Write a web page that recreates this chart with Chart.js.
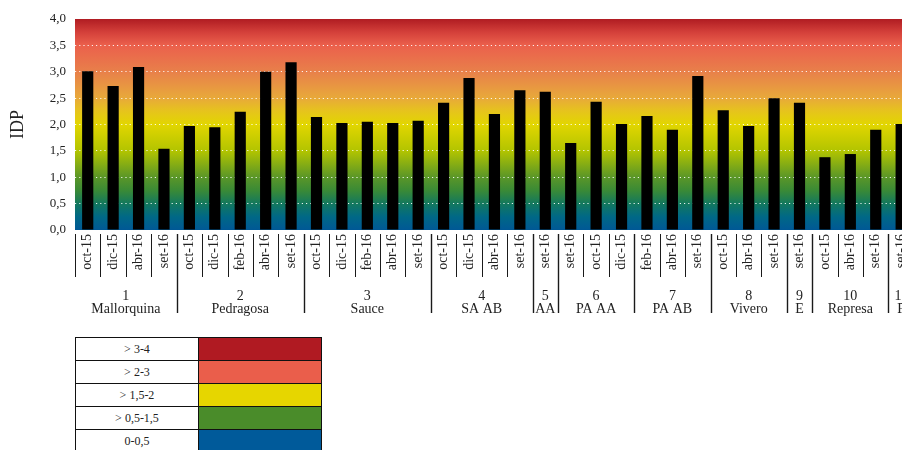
<!DOCTYPE html>
<html>
<head>
<meta charset="utf-8">
<script src="https://cdn.jsdelivr.net/npm/chart.js@4.4.0/dist/chart.umd.min.js"></script>
<style>
  html, body { margin: 0; padding: 0; background: #fff; overflow: hidden; width: 902px; height: 450px; }
  #wrap { position: relative; width: 922px; height: 450px; }
  #idpChart { position: absolute; left: 0; top: 0; }
  #scale { position: absolute; left: 75px; top: 337px; border-collapse: collapse; font-family: "Liberation Serif", serif; font-size: 12px; color: #222; }
  #scale td { border: 1px solid #111; height: 22px; padding: 0; text-align: center; }
  #scale td.lbl { width: 122px; background: #fff; }
  #scale td.sw { width: 122px; }
</style>
</head>
<body>
<div id="wrap">
  <canvas id="idpChart" width="922" height="330"></canvas>
  <table id="scale"></table>
</div>
<script>
const categories = [
  'oct-15', 'dic-15', 'abr-16', 'set-16',
  'oct-15', 'dic-15', 'feb-16', 'abr-16', 'set-16',
  'oct-15', 'dic-15', 'feb-16', 'abr-16', 'set-16',
  'oct-15', 'dic-15', 'abr-16', 'set-16',
  'set-16',
  'set-16', 'oct-15', 'dic-15',
  'feb-16', 'abr-16', 'set-16',
  'oct-15', 'abr-16', 'set-16',
  'set-16',
  'oct-15', 'abr-16', 'set-16',
  'set-16'
];
const idpValues = [
  3.01, 2.73, 3.09, 1.54,
  1.97, 1.95, 2.24, 3.00, 3.18,
  2.14, 2.03, 2.05, 2.03, 2.07,
  2.41, 2.88, 2.20, 2.65,
  2.62,
  1.65, 2.43, 2.01,
  2.16, 1.90, 2.92,
  2.27, 1.97, 2.50,
  2.41,
  1.38, 1.44, 1.90,
  2.01
];
const groupNumbers = ['1', '2', '3', '4', '5', '6', '7', '8', '9', '10', '11'];
const groupNames = ['Mallorquina', 'Pedragosa', 'Sauce', 'SA AB', 'AA', 'PA AA', 'PA AB', 'Vivero', 'E', 'Represa', 'P'];
const groupSizes = [4, 5, 5, 4, 1, 3, 3, 3, 1, 3, 1];

const legendLabels = ['> 3-4', '> 2-3', '> 1,5-2', '> 0,5-1,5', '0-0,5'];
const legendColors = ['#b01a22', '#ea5e4b', '#e6d600', '#4a8c2a', '#005a9a'];

// background colour ramp (value -> colour)
const rampValues = [0, 0.25, 0.5, 0.75, 1.0, 1.5, 2.0, 2.25, 2.5, 3.0, 3.5, 3.75, 4.0];
const rampColors = ['#005896', '#006886', '#13785e', '#3a8a36', '#5a9628', '#b2c400', '#e2d600', '#e6c41c', '#e8a93a', '#e8804a', '#eb604c', '#d4403a', '#b01c22'];

const tbl = document.getElementById('scale');
legendLabels.forEach((t, i) => {
  const tr = document.createElement('tr');
  tr.innerHTML = `<td class="lbl">${t.replace('>', '&gt;')}</td><td class="sw" style="background:${legendColors[i]}"></td>`;
  tbl.appendChild(tr);
});

const serif = '"Liberation Serif", "DejaVu Serif", serif';

const bgPlugin = {
  id: 'bgRamp',
  beforeDraw(chart) {
    const { ctx, chartArea: a, scales: { y } } = chart;
    const y0 = y.getPixelForValue(0), y1 = y.getPixelForValue(4);
    const g = ctx.createLinearGradient(0, y0, 0, y1);
    rampValues.forEach((v, i) => g.addColorStop(v / 4, rampColors[i]));
    ctx.save();
    ctx.fillStyle = g;
    ctx.fillRect(a.left, y1, a.right - a.left, y0 - y1);
    ctx.restore();
  }
};

const groupPlugin = {
  id: 'groups',
  afterDraw(chart) {
    const { ctx, chartArea: a, scales: { x } } = chart;
    const half = (x.getPixelForValue(1) - x.getPixelForValue(0)) / 2;
    const ends = [];
    let acc = 0;
    groupSizes.forEach(s => { acc += s; ends.push(acc); });
    ctx.save();
    ctx.strokeStyle = '#1a1a1a';
    for (let b = 0; b <= categories.length; b++) {
      const px = Math.round(x.getPixelForValue(b) - half) + 0.5;
      const isGroup = ends.includes(b) && b < categories.length;
      ctx.lineWidth = isGroup ? 1.4 : 1;
      ctx.beginPath();
      ctx.moveTo(px, a.bottom + 4);
      ctx.lineTo(px, isGroup ? a.bottom + 83 : a.bottom + 47);
      ctx.stroke();
    }
    ctx.fillStyle = '#222';
    ctx.font = '14px ' + serif;
    ctx.textAlign = 'center';
    ctx.textBaseline = 'alphabetic';
    let start = 0;
    groupSizes.forEach((s, i) => {
      const cx = (x.getPixelForValue(start) + x.getPixelForValue(start + s - 1)) / 2;
      ctx.fillText(groupNumbers[i], cx, a.bottom + 70);
      ctx.fillText(groupNames[i], cx, a.bottom + 83);
      start += s;
    });
    ctx.restore();
  }
};

new Chart(document.getElementById('idpChart'), {
  type: 'bar',
  data: {
    labels: categories,
    datasets: [{
      data: idpValues,
      backgroundColor: '#000',
      barPercentage: 0.44,
      categoryPercentage: 1.0
    }]
  },
  options: {
    responsive: false,
    animation: false,
    layout: { padding: { top: 19, right: 2, left: 0, bottom: 0 } },
    plugins: { legend: { display: false }, tooltip: { enabled: false } },
    scales: {
      x: {
        grid: { display: false, drawTicks: false },
        border: { display: false },
        afterFit: s => { s.height = 100; },
        ticks: {
          autoSkip: false, minRotation: 90, maxRotation: 90, padding: 4,
          color: '#222', font: { family: serif, size: 14 }
        }
      },
      y: {
        min: 0, max: 4,
        border: { display: false, dash: [1.2, 3] },
        afterFit: s => { s.width = 75; },
        grid: {
          drawTicks: false,
          lineWidth: 1,
          color: c => (c.tick && (c.tick.value === 0 || c.tick.value === 4)) ? 'rgba(0,0,0,0)' : 'rgba(255,255,255,0.9)'
        },
        ticks: {
          stepSize: 0.5, padding: 9, color: '#222',
          font: { family: serif, size: 13 },
          callback: v => v.toFixed(1).replace('.', ',')
        },
        title: {
          display: true, text: 'IDP', color: '#222',
          font: { family: serif, size: 18 }, padding: { top: 7, bottom: 0 }
        }
      }
    }
  },
  plugins: [bgPlugin, groupPlugin]
});
</script>
</body>
</html>
